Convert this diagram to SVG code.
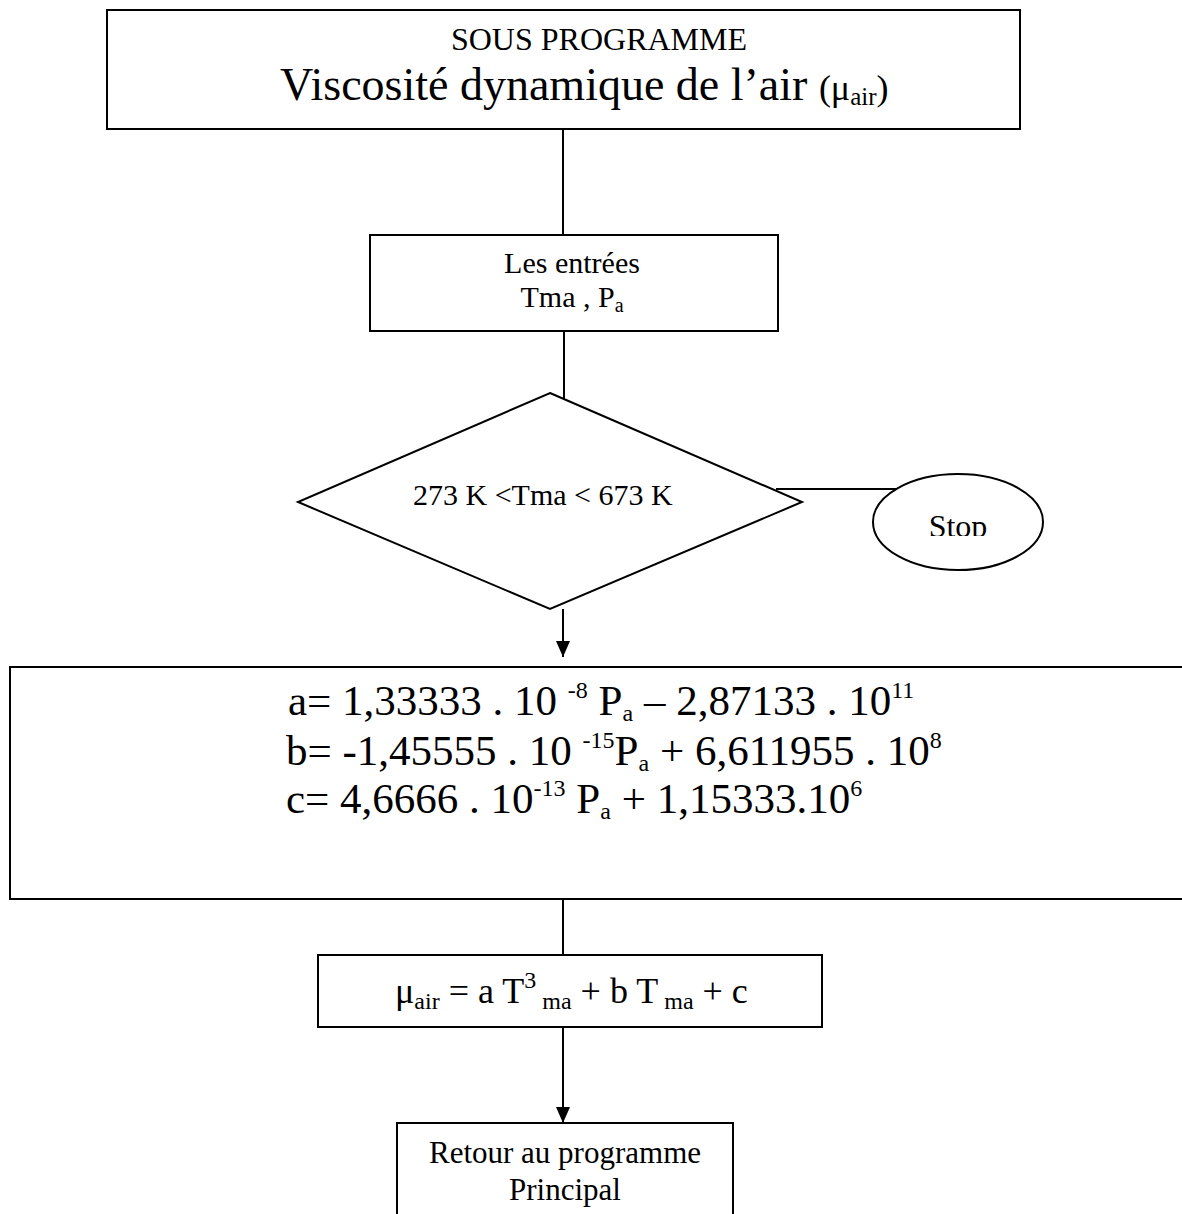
<svg xmlns="http://www.w3.org/2000/svg" width="1182" height="1214" viewBox="0 0 1182 1214">
<defs>
<style>
.box{fill:#fff;stroke:#000;stroke-width:2}
.ln{fill:none;stroke:#000;stroke-width:2}
text{font-family:"Liberation Serif","Times New Roman",serif;fill:#000}
</style>
<marker id="arr" viewBox="0 0 16 14" refX="16" refY="7" markerWidth="16" markerHeight="14" markerUnits="userSpaceOnUse" orient="auto">
<path d="M0,0 L16,7 L0,14 Z" fill="#000"/>
</marker>
<clipPath id="stopclip"><rect x="870" y="470" width="180" height="66"/></clipPath>
</defs>
<rect width="1182" height="1214" fill="#fff"/>
<g id="connectors">
<line class="ln" x1="563" y1="129" x2="563" y2="235"/>
<line class="ln" x1="564" y1="331" x2="564" y2="399"/>
<line class="ln" x1="776" y1="489" x2="897" y2="489"/>
<path class="ln" d="M563,609 V657" marker-end="url(#arr)"/>
<line class="ln" x1="563" y1="899" x2="563" y2="955"/>
<path class="ln" d="M563,1027 V1123" marker-end="url(#arr)"/>
</g>
<g id="title">
<rect class="box" x="107" y="10" width="913" height="119"/>
<text x="599" y="50" font-size="32" text-anchor="middle">SOUS PROGRAMME</text>
<text x="280" y="100" font-size="46">Viscosité dynamique de l’air <tspan font-size="36">(μ</tspan><tspan font-size="25" dy="5">air</tspan><tspan font-size="36" dy="-5">)</tspan></text>
</g>
<g id="entrees">
<rect class="box" x="370" y="235" width="408" height="96"/>
<text x="572" y="273" font-size="30" text-anchor="middle">Les entrées</text>
<text x="572" y="307" font-size="30" text-anchor="middle">Tma , P<tspan font-size="20" dy="5">a</tspan></text>
</g>
<g id="decision">
<polygon class="box" points="550,393 802,502 550,609 298,502"/>
<text x="413" y="505" font-size="30">273 K &lt;Tma &lt; 673 K</text>
</g>
<g id="stop">
<ellipse class="box" cx="958" cy="522" rx="85" ry="48"/>
<text x="958" y="537" font-size="32" text-anchor="middle" clip-path="url(#stopclip)">Stop</text>
</g>
<g id="coefficients">
<rect class="box" x="10" y="667" width="1185" height="232"/>
<text x="288" y="715" font-size="43">a= 1,33333 . 10 <tspan font-size="24" dy="-17">-8</tspan><tspan dy="17"> P</tspan><tspan font-size="24" dy="6">a</tspan><tspan dy="-6"> – 2,87133 . 10</tspan><tspan font-size="24" dy="-17">11</tspan></text>
<text x="286" y="765" font-size="43">b= -1,45555 . 10 <tspan font-size="24" dy="-17">-15</tspan><tspan dy="17">P</tspan><tspan font-size="24" dy="6">a</tspan><tspan dy="-6"> + 6,611955 . 10</tspan><tspan font-size="24" dy="-17">8</tspan></text>
<text x="286" y="813" font-size="43">c= 4,6666 . 10<tspan font-size="24" dy="-17">-13</tspan><tspan dy="17"> P</tspan><tspan font-size="24" dy="6">a</tspan><tspan dy="-6"> + 1,15333.10</tspan><tspan font-size="24" dy="-17">6</tspan></text>
</g>
<g id="viscosite">
<rect class="box" x="318" y="955" width="504" height="72"/>
<text x="395" y="1003" font-size="36">μ<tspan font-size="24" dy="6">air</tspan><tspan dy="-6"> = a T</tspan><tspan font-size="24" dy="-15">3</tspan><tspan font-size="24" dy="21"> ma</tspan><tspan dy="-6"> + b T</tspan><tspan font-size="24" dy="6"> ma</tspan><tspan dy="-6"> + c</tspan></text>
</g>
<g id="retour">
<rect class="box" x="397" y="1123" width="336" height="100"/>
<text x="565" y="1163" font-size="31" text-anchor="middle">Retour au programme</text>
<text x="565" y="1200" font-size="31" text-anchor="middle">Principal</text>
</g>
</svg>
